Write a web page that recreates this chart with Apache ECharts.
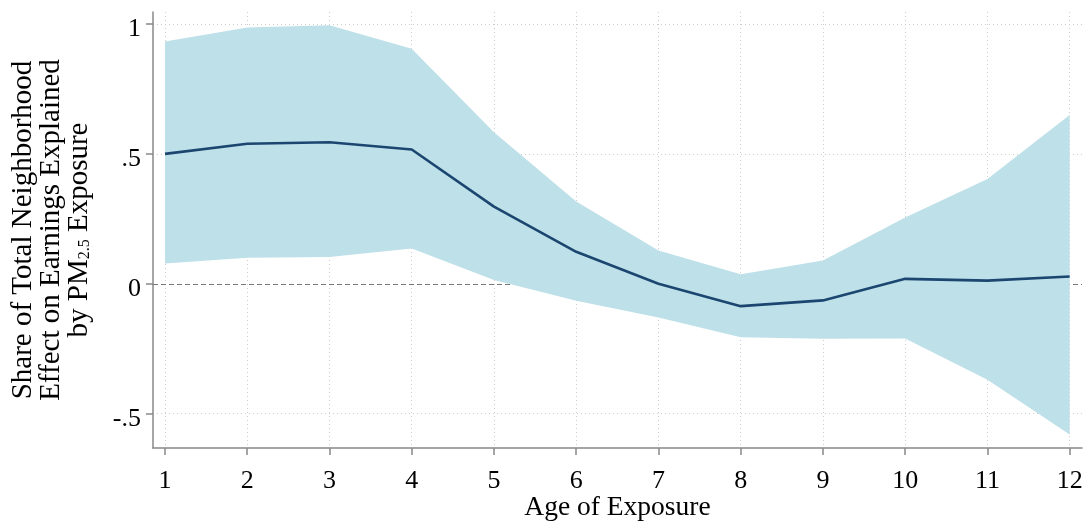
<!DOCTYPE html>
<html>
<head>
<meta charset="utf-8">
<script src="https://cdn.jsdelivr.net/npm/echarts@6/dist/echarts.min.js"></script>
<style>html,body{margin:0;padding:0;background:#fff;}#c{width:1086px;height:521px;}</style>
</head>
<body>
<div id="c"></div>
<script>
const ages = [1, 2, 3, 4, 5, 6, 7, 8, 9, 10, 11, 12];
const estimate = [0.50, 0.539, 0.545, 0.517, 0.297, 0.123, 0.0, -0.086, -0.064, 0.019, 0.012, 0.028];
const upperCI = [0.932, 0.986, 0.995, 0.905, 0.583, 0.317, 0.128, 0.037, 0.090, 0.255, 0.403, 0.650];
const lowerCI = [0.078, 0.100, 0.103, 0.136, 0.015, -0.065, -0.130, -0.206, -0.212, -0.211, -0.369, -0.580];
const yTickValues = [-0.5, 0, 0.5, 1];
const yTickLabels = ['-.5', '0', '.5', '1'];
const xTitle = 'Age of Exposure';

const FONT = 'Liberation Serif';
const chart = echarts.init(document.getElementById('c'), null, {renderer: 'canvas'});

chart.setOption({
  animation: false,
  backgroundColor: '#fff',
  grid: {left: 153, right: 4, top: 12, bottom: 73, containLabel: false, outerBoundsMode: 'none'},
  xAxis: {
    type: 'value', min: 0.854, max: 12.15,
    name: xTitle, nameLocation: 'middle', nameGap: 46, nameMoveOverlap: false,
    nameTextStyle: {fontFamily: FONT, fontSize: 27.5, color: '#000'},
    axisLine: {show: true, onZero: false, lineStyle: {color: '#888', width: 1.5}},
    axisTick: {show: true, length: 7, customValues: ages, lineStyle: {color: '#888', width: 1.5}},
    axisLabel: {customValues: ages, fontFamily: FONT, fontSize: 26, color: '#000', margin: 20,
      formatter: v => String(Math.round(v))},
    splitLine: {show: true, lineStyle: {color: '#ccc', type: [1, 3], width: 1}}
  },
  yAxis: {
    type: 'value', min: -0.632, max: 1.046,
    name: '{t|Share of Total Neighborhood}\n{t|Effect on Earnings Explained}\n{t|by PM}{s|2.5}{t| Exposure}',
    nameLocation: 'middle', nameGap: 60, nameRotate: 90, nameMoveOverlap: false,
    nameTextStyle: {
      fontFamily: FONT, color: '#000', fontSize: 29, lineHeight: 28,
      rich: {
        t: {fontFamily: FONT, fontSize: 29, color: '#000', lineHeight: 28},
        s: {fontFamily: FONT, fontSize: 16, color: '#000', lineHeight: 28, verticalAlign: 'bottom', padding: [12, 0, 0, 0]}
      }
    },
    axisLine: {show: true, onZero: false, lineStyle: {color: '#888', width: 1.5}},
    axisTick: {show: true, length: 7, customValues: yTickValues, lineStyle: {color: '#888', width: 1.5}},
    axisLabel: {customValues: yTickValues, color: '#000', margin: 12,
      rich: {v: {fontFamily: FONT, fontSize: 26, color: '#000', padding: [10, 0, 0, 0]}},
      formatter: v => '{v|' + yTickLabels[yTickValues.findIndex(t => Math.abs(t - v) < 1e-6)] + '}'},
    splitLine: {show: true, lineStyle: {color: '#ccc', type: [1, 3], width: 1}}
  },
  series: [
    {
      type: 'line', data: [], symbol: 'none', silent: true, z: 1,
      markLine: {
        silent: true, symbol: 'none', label: {show: false}, z: 1,
        lineStyle: {color: '#777', type: [5, 3], width: 1.2},
        data: [{yAxis: 0}]
      }
    },
    {
      type: 'custom', z: 2, silent: true,
      data: ages.map((a, i) => [a, lowerCI[i], upperCI[i]]),
      renderItem: function (params, api) {
        if (params.dataIndex !== 0) return null;
        const upper = ages.map((a, i) => api.coord([a, upperCI[i]]));
        const lower = ages.map((a, i) => api.coord([a, lowerCI[i]])).reverse();
        return {
          type: 'polygon',
          shape: {points: upper.concat(lower)},
          style: {fill: '#bee0e8', stroke: null}
        };
      }
    },
    {
      type: 'line', data: ages.map((a, i) => [a, estimate[i]]),
      symbol: 'none', lineStyle: {color: '#1b4670', width: 2.6}, z: 3
    }
  ]
});
</script>
</body>
</html>
